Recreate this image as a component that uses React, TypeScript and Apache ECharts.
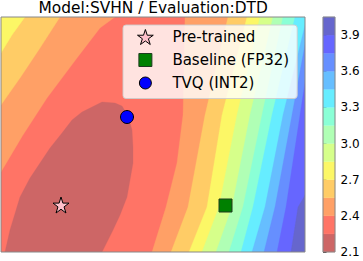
import React, { useEffect, useRef } from "react";
import * as echarts from "echarts";

// ---------- data ----------
const TITLE = "Model:SVHN / Evaluation:DTD";
const SERIES_NAMES = ["Pre-trained", "Baseline (FP32)", "TVQ (INT2)"];

// contour levels (loss) and colour of each filled band (jet_r, alpha 0.6)
const LEVELS = [2.1, 2.25, 2.4, 2.55, 2.7, 2.85, 3.0, 3.15, 3.3, 3.45, 3.6, 3.75, 3.9, 4.05];
const BAND_COLORS = [
  "#cd6666", "#ff7466", "#ffa066", "#ffcc66", "#fcf766", "#d6ff8a", "#b0ffb5",
  "#8affd6", "#66edff", "#66beff", "#668fff", "#6666ff", "#6666cd",
];
const COLORBAR_TICKS = [2.1, 2.4, 2.7, 3.0, 3.3, 3.6, 3.9];

// plane extent (arbitrary plane units)
const X_RANGE = [0, 304];
const Y_RANGE = [0, 235];

// points
const PRETRAINED = [[60, 47]];
const BASELINE = [[224.5, 46.5]];
const TVQ = [[126, 135]];

// contour 2.25 – low-loss basin, closed by the bottom edge
const BASIN_2_25 = [
  [4, 0], [9, 22], [19, 55], [29, 74], [39, 89], [49, 104], [61, 119], [71, 132],
  [81, 140], [101, 150], [114, 149], [121, 146], [127, 136], [131, 122], [132, 104],
  [132, 89], [129, 72], [126, 55], [119, 37], [112, 22], [101, 0],
];
// upper-left contours (top edge -> left edge)
const UL_2_40 = [[114, 235], [99, 224], [76, 194], [46, 154], [22, 117], [0, 80]];
const UL_2_55 = [[59, 235], [39, 204], [19, 174], [0, 147]];
const UL_2_70 = [[24, 235], [11, 217], [0, 199]];
// right-hand contours (top -> bottom), levels 2.4 ... 3.9
const R_2_40 = [[184, 235], [182, 137], [176, 89], [165, 45], [151, 0]];
const R_2_55 = [[227, 235], [204, 137], [187, 45], [170, 0]];
const R_2_70 = [[246, 235], [221, 137], [206, 45], [188, 0]];
const R_2_85 = [[259, 235], [236, 137], [218, 45], [201, 0]];
const R_3_00 = [[272, 235], [249, 137], [231, 45], [215, 0]];
const R_3_15 = [[282, 235], [261, 137], [242, 45], [228, 0]];
const R_3_30 = [[294, 235], [271, 137], [252, 45], [240, 0]];
const R_3_45 = [[306, 235], [282, 137], [264, 45], [251, 0]];
const R_3_60 = [[309, 235], [291, 137], [274, 45], [263, 0]];
const R_3_75 = [[314, 235], [299, 137], [285, 45], [276, 0]];
const R_3_90 = [[306, 62], [303, 55], [297, 45], [290, 0]];
const RIGHT_CONTOURS = [R_2_40, R_2_55, R_2_70, R_2_85, R_3_00, R_3_15, R_3_30, R_3_45, R_3_60, R_3_75, R_3_90];

type Region = { band: number; kind: "plane" | "basin" | "upperLeft" | "right"; pts: number[][] };
const REGIONS: Region[] = [
  { band: 1, kind: "plane", pts: [] },
  { band: 0, kind: "basin", pts: BASIN_2_25 },
  { band: 2, kind: "upperLeft", pts: UL_2_40 },
  { band: 3, kind: "upperLeft", pts: UL_2_55 },
  { band: 4, kind: "upperLeft", pts: UL_2_70 },
  ...RIGHT_CONTOURS.map((pts, k) => ({ band: k + 2, kind: "right" as const, pts })),
];

// ---------- symbols ----------
const STAR_SYMBOL = (() => {
  const pts: string[] = [];
  for (let k = 0; k < 10; k++) {
    const a = -Math.PI / 2 + (k * Math.PI) / 5;
    const r = k % 2 === 0 ? 1 : 0.382;
    pts.push(`${(r * Math.cos(a)).toFixed(4)},${(r * Math.sin(a)).toFixed(4)}`);
  }
  return "path://M" + pts.join("L") + "Z";
})();
const SQUARE_ICON = "path://M0,0M1,1L14,1L14,14L1,14ZM15,15";
const CIRCLE_ICON = "path://M0,0M1.5,7.5A6,6,0,1,1,13.5,7.5A6,6,0,1,1,1.5,7.5ZM15,15";

const FONT = "DejaVu Sans";

function buildOption(): any {
  const contourSeries = {
    type: "custom",
    xAxisIndex: 0,
    yAxisIndex: 0,
    clip: true,
    silent: true,
    z: 1,
    data: REGIONS.map((_, i) => [i]),
    renderItem: (params: any, api: any) => {
      const r = REGIONS[params.dataIndex];
      let pts: number[][];
      if (r.kind === "plane") {
        pts = [[X_RANGE[0], Y_RANGE[0]], [X_RANGE[1], Y_RANGE[0]], [X_RANGE[1], Y_RANGE[1]], [X_RANGE[0], Y_RANGE[1]]];
      } else if (r.kind === "basin") {
        pts = r.pts;
      } else if (r.kind === "upperLeft") {
        pts = [...r.pts, [X_RANGE[0], Y_RANGE[1]]];
      } else {
        const first = r.pts[0];
        const last = r.pts[r.pts.length - 1];
        pts = [...r.pts, [X_RANGE[1] + 150, last[1]], [X_RANGE[1] + 150, first[1]]];
      }
      return {
        type: "polygon",
        shape: { points: pts.map((p) => api.coord(p)) },
        style: { fill: BAND_COLORS[r.band], stroke: BAND_COLORS[r.band], lineWidth: 0.3 },
      };
    },
  };

  const colorbarSeries = {
    type: "custom",
    xAxisIndex: 1,
    yAxisIndex: 1,
    silent: true,
    data: LEVELS.slice(0, -1).map((_, i) => [i]),
    renderItem: (params: any, api: any) => {
      const i = params.dataIndex;
      const p0 = api.coord([0, LEVELS[i]]);
      const p1 = api.coord([1, LEVELS[i + 1]]);
      return {
        type: "rect",
        shape: { x: p0[0], y: p1[1], width: p1[0] - p0[0], height: p0[1] - p1[1] },
        style: { fill: BAND_COLORS[i], stroke: BAND_COLORS[i], lineWidth: 0.3 },
      };
    },
  };

  return {
    animation: false,
    backgroundColor: "#ffffff",
    title: {
      text: TITLE,
      left: 38.5,
      top: 0,
      padding: 0,
      textStyle: { fontFamily: FONT, fontSize: 15.4, fontWeight: "normal", color: "#000" },
    },
    grid: [
      { left: 1, top: 17, width: 304, height: 235, show: true, borderColor: "#888", borderWidth: 1, backgroundColor: "transparent", z: 10, outerBoundsMode: "none", containLabel: false },
      { left: 323, top: 17, width: 12, height: 235, show: true, borderColor: "#888", borderWidth: 1, backgroundColor: "transparent", z: 10, outerBoundsMode: "none", containLabel: false },
    ],
    xAxis: [
      { type: "value", gridIndex: 0, min: X_RANGE[0], max: X_RANGE[1], show: false },
      { type: "value", gridIndex: 1, min: 0, max: 1, show: false },
    ],
    yAxis: [
      { type: "value", gridIndex: 0, min: Y_RANGE[0], max: Y_RANGE[1], show: false },
      {
        type: "value",
        gridIndex: 1,
        min: LEVELS[0],
        max: LEVELS[LEVELS.length - 1],
        interval: 0.3,
        position: "right",
        axisLine: { show: false },
        splitLine: { show: false },
        axisTick: { show: true, length: 3.5, lineStyle: { color: "#000", width: 0.8 }, customValues: COLORBAR_TICKS },
        axisLabel: {
          show: true,
          customValues: COLORBAR_TICKS,
          margin: 5.5,
          fontFamily: FONT,
          fontSize: 12,
          color: "#000",
          formatter: (v: number) =>
            COLORBAR_TICKS.some((t) => Math.abs(t - v) < 1e-6) ? v.toFixed(1) : "",
        },
      },
    ],
    legend: {
      orient: "vertical",
      left: 123,
      top: 25,
      padding: [4, 8, 7.5, 14],
      itemWidth: 44,
      itemHeight: 15,
      itemGap: 7,
      selectedMode: false,
      backgroundColor: "rgba(255,255,255,0.8)",
      borderColor: "rgba(204,204,204,0.9)",
      borderWidth: 1,
      borderRadius: 3,
      textStyle: { fontFamily: FONT, fontSize: 15, color: "#000" },
      data: [
        { name: SERIES_NAMES[0], icon: STAR_SYMBOL, itemStyle: { borderColor: "#000", borderWidth: 1 } },
        { name: SERIES_NAMES[1], icon: SQUARE_ICON, itemStyle: { borderColor: "#1f3a1f", borderWidth: 1 } },
        { name: SERIES_NAMES[2], icon: CIRCLE_ICON, itemStyle: { borderColor: "#000", borderWidth: 1 } },
      ],
    },
    series: [
      contourSeries,
      colorbarSeries,
      {
        name: SERIES_NAMES[0],
        type: "scatter",
        xAxisIndex: 0,
        yAxisIndex: 0,
        z: 5,
        symbol: STAR_SYMBOL,
        symbolSize: 16,
        data: PRETRAINED,
        itemStyle: { color: "#ffc0cb", borderColor: "#000", borderWidth: 1, opacity: 1 },
      },
      {
        name: SERIES_NAMES[1],
        type: "scatter",
        xAxisIndex: 0,
        yAxisIndex: 0,
        z: 5,
        symbol: "rect",
        symbolSize: 13,
        data: BASELINE,
        itemStyle: { color: "#008000", borderColor: "#1f3a1f", borderWidth: 1, opacity: 1 },
      },
      {
        name: SERIES_NAMES[2],
        type: "scatter",
        xAxisIndex: 0,
        yAxisIndex: 0,
        z: 5,
        symbol: "circle",
        symbolSize: 13,
        data: TVQ,
        itemStyle: { color: "#0000ff", borderColor: "#000", borderWidth: 1, opacity: 1 },
      },
    ],
  };
}

export default function App() {
  const ref = useRef<HTMLDivElement>(null);
  useEffect(() => {
    if (!ref.current) return;
    const chart = echarts.init(ref.current, null, { renderer: "svg" });
    chart.setOption(buildOption());
    return () => chart.dispose();
  }, []);
  return (
    <div
      ref={ref}
      style={{ position: "absolute", left: 0, top: 0, width: 363, height: 261 }}
    />
  );
}
